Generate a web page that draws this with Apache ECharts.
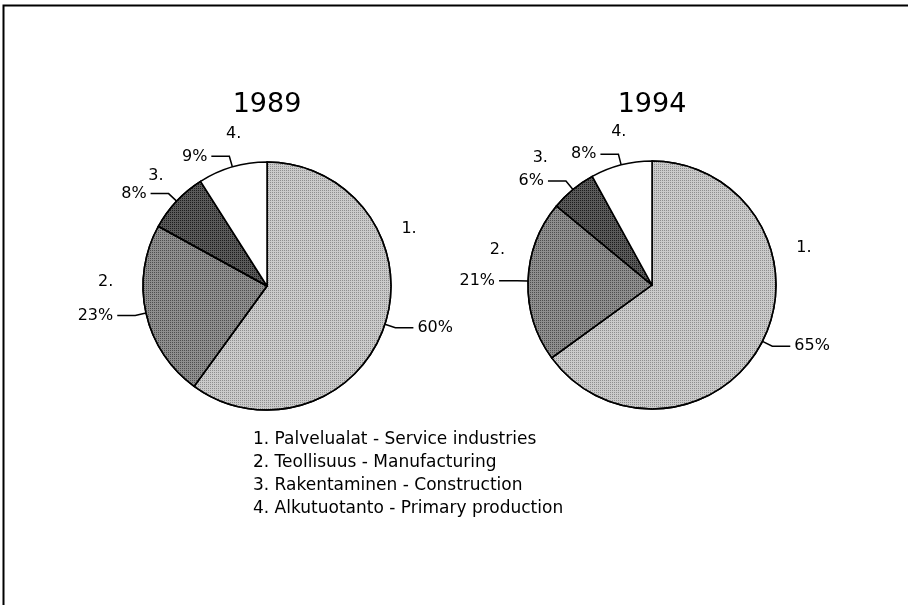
<!DOCTYPE html>
<html>
<head>
<meta charset="utf-8">
<script src="https://cdn.jsdelivr.net/npm/echarts@6/dist/echarts.min.js"></script>
<style>
  html, body { margin: 0; padding: 0; background: #fff; }
  #main { width: 909px; height: 605px; }
</style>
</head>
<body>
<div id="main"></div>
<script>
var myChart = echarts.init(document.getElementById('main'));

// sectors (legend text)
var categories = [
    'Palvelualat - Service industries',
    'Teollisuus - Manufacturing',
    'Rakentaminen - Construction',
    'Alkutuotanto - Primary production'
];
var years = ['1989', '1994'];
// shares, %
var share1989 = [60, 23, 8, 9];
var share1994 = [65, 21, 6, 8];

// fills: dotted light grey, darker grey, darkest, white
var fills = ['#cacaca', '#8e8e8e', '#5a5a5a', '#ffffff'];
var dots = ['#8e8e8e', '#4e4e4e', '#1c1c1c', null];
var font = 'DejaVu Sans';

// nudges of the "1." "2." ... labels from the % labels
var numShift = [
    [[-16, -99], [0, -34], [17, -18], [34, -23]],
    [[2, -98], [10, -31], [4, -23], [30, -22]]
];

function makeData(values, plain) {
    var out = [];
    for (var i = 0; i < values.length; i++) {
        var st = { color: plain ? 'transparent' : fills[i] };
        if (!plain && dots[i]) {
            st.decal = {
                symbol: 'rect',
                symbolSize: 1,
                color: dots[i],
                dashArrayX: [1, 1],
                dashArrayY: [1, 1]
            };
        }
        out.push({ name: categories[i], value: values[i], itemStyle: st });
    }
    return out;
}

function pctSeries(values, center) {
    return {
        type: 'pie',
        center: center,
        radius: 124,
        startAngle: 90,
        clockwise: true,
        avoidLabelOverlap: false,
        silent: true,
        animation: false,
        data: makeData(values, false),
        itemStyle: { borderColor: '#000', borderWidth: 1.5 },
        label: {
            show: true,
            position: 'outside',
            formatter: '{c}%',
            color: '#000',
            fontFamily: font,
            fontSize: 16,
            distanceToLabelLine: 4
        },
        labelLine: {
            show: true,
            length: 11,
            length2: 18,
            lineStyle: { color: '#000', width: 1.5 }
        },
        emphasis: { disabled: true }
    };
}

function numSeries(values, center, k) {
    return {
        type: 'pie',
        center: center,
        radius: 124,
        startAngle: 90,
        clockwise: true,
        avoidLabelOverlap: false,
        silent: true,
        animation: false,
        data: makeData(values, true),
        itemStyle: { borderWidth: 0 },
        label: {
            show: true,
            position: 'outside',
            formatter: function (p) { return (p.dataIndex + 1) + '.'; },
            color: '#000',
            fontFamily: font,
            fontSize: 16,
            distanceToLabelLine: 4
        },
        labelLine: { show: false, length: 11, length2: 18 },
        labelLayout: function (p) {
            var s = numShift[k][p.dataIndex];
            return { dx: s[0], dy: s[1] };
        },
        emphasis: { disabled: true }
    };
}

var option = {
    animation: false,
    backgroundColor: '#fff',
    title: [{
        text: years[0],
        left: 262,
        top: 86,
        textAlign: 'center',
        textStyle: { fontFamily: font, fontSize: 27, fontWeight: 'normal', color: '#000' }
    }, {
        text: years[1],
        left: 647,
        top: 86,
        textAlign: 'center',
        textStyle: { fontFamily: font, fontSize: 27, fontWeight: 'normal', color: '#000' }
    }],
    legend: {
        orient: 'vertical',
        left: 243,
        top: 426,
        icon: 'none',
        itemWidth: 0,
        itemHeight: 14,
        itemGap: 6,
        selectedMode: false,
        data: categories,
        formatter: function (name) {
            return (categories.indexOf(name) + 1) + '. ' + name;
        },
        textStyle: { fontFamily: font, fontSize: 17, color: '#000' }
    },
    // open frame: top and left edge only, as in the scan
    graphic: [{
        type: 'polyline',
        shape: { points: [[908, 5.5], [3.5, 5.5], [3.5, 605]] },
        style: { stroke: '#000', lineWidth: 2, fill: null }
    }],
    series: [
        pctSeries(share1989, [267, 286]),
        numSeries(share1989, [267, 286], 0),
        pctSeries(share1994, [652, 285]),
        numSeries(share1994, [652, 285], 1)
    ]
};

myChart.setOption(option);
</script>
</body>
</html>
